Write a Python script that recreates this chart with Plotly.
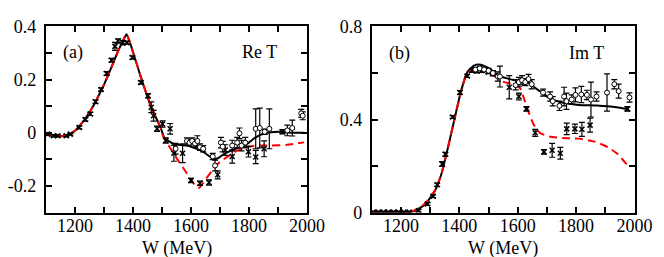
import plotly.graph_objects as go

# ---------------- Panel (a): Re T ----------------
a_curve_W = [1100, 1120, 1140, 1160, 1180, 1200, 1217, 1234, 1250, 1267, 1284, 1301, 1318, 1334,
             1348, 1362, 1372, 1378, 1390, 1400, 1415, 1430, 1446, 1463, 1480, 1496]
a_curve_common = [-0.005, -0.010, -0.013, -0.012, -0.008, 0.008, 0.028, 0.050, 0.077, 0.108, 0.145,
                  0.183, 0.226, 0.269, 0.305, 0.339, 0.360, 0.371, 0.338, 0.304, 0.252, 0.200,
                  0.148, 0.096, 0.055, 0.018]
a_black_W = [1508, 1525, 1541, 1564, 1586, 1610, 1631, 1648, 1664, 1681, 1695, 1709, 1742, 1765,
             1787, 1805, 1820, 1854, 1876, 1899, 1930, 1960, 1990]
a_black_v = [-0.019, -0.032, -0.042, -0.046, -0.048, -0.056, -0.065, -0.076, -0.089, -0.098, -0.094,
             -0.083, -0.065, -0.056, -0.048, -0.032, -0.019, -0.002, 0.002, 0.004, 0.002, 0.000, 0.000]
a_red_W = [1497, 1513, 1530, 1552, 1575, 1590, 1603, 1619, 1628, 1636, 1646, 1658, 1672, 1686, 1703,
           1720, 1753, 1787, 1832, 1876, 1932, 1960, 1990]
a_red_v = [0.004, -0.030, -0.060, -0.098, -0.135, -0.160, -0.181, -0.204, -0.207, -0.198, -0.182,
           -0.164, -0.143, -0.123, -0.107, -0.094, -0.071, -0.054, -0.048, -0.048, -0.045, -0.041, -0.036]

a_x_W = [1106, 1126, 1141, 1170, 1184, 1215, 1236, 1253, 1271, 1290, 1309, 1326, 1338, 1349, 1365,
         1379, 1398, 1427, 1452, 1463, 1471, 1483, 1502, 1513, 1528, 1541, 1571, 1600, 1631, 1662,
         1692, 1718, 1742, 1798, 1823, 1852, 1915]
a_x_v = [-0.005, -0.011, -0.011, -0.011, -0.005, 0.020, 0.050, 0.071, 0.117, 0.163, 0.223, 0.273,
         0.325, 0.345, 0.339, 0.339, 0.283, 0.189, 0.139, 0.096, 0.064, 0.015, 0.033, -0.029, 0.015,
         -0.077, -0.077, -0.179, -0.190, -0.187, -0.158, -0.065, -0.089, -0.071, -0.091, -0.060, 0.004]
a_x_err = [0.004, 0.004, 0.004, 0.004, 0.004, 0.005, 0.006, 0.006, 0.006, 0.006, 0.007, 0.007,
           0.015, 0.008, 0.008, 0.006, 0.006, 0.006, 0.008, 0.02, 0.02, 0.01, 0.012, 0.01, 0.02,
           0.03, 0.035, 0.008, 0.008, 0.01, 0.015, 0.02, 0.025, 0.02, 0.025, 0.03, 0.008]

a_o_W = [1547, 1586, 1595, 1604, 1614, 1622, 1631, 1642, 1675, 1683, 1703, 1709, 1742, 1759, 1767,
         1774, 1787, 1823, 1837, 1854, 1870, 1932, 1949, 1980, 1985]
a_o_v = [-0.060, -0.031, -0.037, -0.031, -0.040, -0.031, -0.054, -0.060, -0.089, -0.123, -0.037,
         -0.052, -0.048, -0.037, -0.002, -0.048, -0.037, 0.015, 0.018, 0.004, 0.015, 0.009, 0.018,
         0.073, 0.064]
a_o_err = [0.02, 0.012, 0.012, 0.012, 0.015, 0.02, 0.012, 0.012, 0.012, 0.02, 0.02, 0.02, 0.02,
           0.02, 0.02, 0.02, 0.02, 0.075, 0.075, 0.01, 0.075, 0.02, 0.03, 0.015, 0.015]

# ---------------- Panel (b): Im T ----------------
b_black_W = [1100, 1150, 1217, 1250, 1283, 1317, 1339, 1361, 1383, 1405, 1428, 1450, 1467, 1483,
             1499, 1516, 1532, 1560, 1590, 1615, 1635, 1650, 1676, 1709, 1743, 1809, 1871, 1938, 1977]
b_black_v = [0.0, 0.0, 0.0, 0.009, 0.036, 0.095, 0.168, 0.280, 0.400, 0.519, 0.605, 0.632, 0.637,
             0.632, 0.622, 0.608, 0.590, 0.578, 0.570, 0.570, 0.563, 0.545, 0.522, 0.492, 0.476,
             0.463, 0.460, 0.453, 0.445]
b_red_W = [1100, 1150, 1217, 1250, 1283, 1317, 1339, 1361, 1383, 1405, 1421, 1443, 1465, 1488,
           1510, 1554, 1587, 1610, 1621, 1637, 1654, 1678, 1709, 1754, 1809, 1864, 1909, 1942, 1977]
b_red_v = [0.0, 0.0, 0.0, 0.012, 0.040, 0.097, 0.168, 0.280, 0.400, 0.515, 0.585, 0.615, 0.620,
           0.611, 0.595, 0.561, 0.552, 0.532, 0.492, 0.433, 0.380, 0.341, 0.327, 0.321, 0.318,
           0.305, 0.281, 0.252, 0.202]

b_x_W = [1105, 1122, 1140, 1157, 1175, 1192, 1210, 1228, 1260, 1291, 1310, 1324, 1341, 1352, 1377,
         1402, 1427, 1443, 1460, 1477, 1499, 1515, 1571, 1604, 1630, 1660, 1690, 1718, 1746, 1768,
         1796, 1820, 1848, 1976]
b_x_v = [0.002, 0.002, 0.002, 0.002, 0.002, 0.002, 0.002, 0.002, 0.008, 0.037, 0.070, 0.120, 0.209,
         0.251, 0.411, 0.516, 0.587, 0.611, 0.609, 0.611, 0.605, 0.598, 0.539, 0.499, 0.446, 0.343,
         0.261, 0.268, 0.255, 0.360, 0.360, 0.358, 0.376, 0.446]
b_x_err = [0.003, 0.003, 0.003, 0.003, 0.003, 0.003, 0.003, 0.003, 0.005, 0.006, 0.006, 0.007,
           0.01, 0.008, 0.006, 0.008, 0.006, 0.008, 0.008, 0.008, 0.008, 0.01, 0.05, 0.015, 0.01,
           0.015, 0.01, 0.03, 0.025, 0.025, 0.02, 0.03, 0.03, 0.01]

b_o_W = [1455, 1470, 1485, 1500, 1515, 1532, 1539, 1593, 1604, 1615, 1626, 1637, 1648, 1687, 1711,
         1720, 1743, 1759, 1767, 1785, 1798, 1818, 1837, 1851, 1870, 1906, 1931, 1946, 1983]
b_o_v = [0.615, 0.620, 0.615, 0.610, 0.600, 0.585, 0.585, 0.548, 0.561, 0.569, 0.561, 0.574, 0.552,
         0.516, 0.499, 0.479, 0.459, 0.499, 0.479, 0.486, 0.506, 0.508, 0.506, 0.486, 0.499, 0.516,
         0.552, 0.522, 0.495]
b_o_err = [0.008, 0.008, 0.008, 0.01, 0.01, 0.02, 0.045, 0.02, 0.02, 0.02, 0.015, 0.02, 0.02, 0.015,
           0.02, 0.02, 0.02, 0.04, 0.035, 0.02, 0.03, 0.035, 0.02, 0.075, 0.02, 0.08, 0.02, 0.03, 0.02]

x_major = [1200, 1400, 1600, 1800, 2000]
x_minor = [1100, 1300, 1500, 1700, 1900]
a_y_major = [-0.2, 0, 0.2, 0.4]
a_y_labels = ["-0.2", "0", "0.2", "0.4"]
a_y_minor = [-0.3, -0.1, 0.1, 0.3]
b_y_major = [0, 0.4, 0.8]
b_y_labels = ["0", "0.4", "0.8"]
b_y_minor = [0.2, 0.6]

FONT = "Liberation Serif"
RED = "#ff0000"

fig = go.Figure()

def add_panel(xa, ya, common_W, common_v, blk_W, blk_v, red_W, red_v,
              xW, xv, xe, oW, ov, oe):
    bW = (common_W or []) + blk_W
    bv = (common_v or []) + blk_v
    rW = (common_W or []) + red_W
    rv = (common_v or []) + red_v
    fig.add_trace(go.Scatter(x=bW, y=bv, mode="lines", xaxis=xa, yaxis=ya,
                             line=dict(color="black", width=2, shape="spline", smoothing=0.5),
                             showlegend=False, hoverinfo="skip"))
    fig.add_trace(go.Scatter(x=rW, y=rv, mode="lines", xaxis=xa, yaxis=ya,
                             line=dict(color=RED, width=2, dash="8px,5px", shape="spline", smoothing=0.5),
                             showlegend=False, hoverinfo="skip"))
    fig.add_trace(go.Scatter(x=xW, y=xv, mode="markers", xaxis=xa, yaxis=ya,
                             marker=dict(symbol="x-thin", size=5, color="black",
                                         line=dict(width=1.5, color="black")),
                             error_y=dict(type="data", array=xe, thickness=1.2, width=3, color="black"),
                             showlegend=False, hoverinfo="skip"))
    fig.add_trace(go.Scatter(x=oW, y=ov, mode="markers", xaxis=xa, yaxis=ya,
                             marker=dict(symbol="circle", size=5, color="white",
                                         line=dict(width=1, color="black")),
                             error_y=dict(type="data", array=oe, thickness=1.2, width=3, color="black"),
                             showlegend=False, hoverinfo="skip"))

add_panel("x", "y", a_curve_W, a_curve_common, a_black_W, a_black_v, a_red_W, a_red_v,
          a_x_W, a_x_v, a_x_err, a_o_W, a_o_v, a_o_err)
add_panel("x2", "y2", None, None, b_black_W, b_black_v, b_red_W, b_red_v,
          b_x_W, b_x_v, b_x_err, b_o_W, b_o_v, b_o_err)

H = 257.0
W = 664.0
ydom = [1 - 211 / H, 1 - 9 / H]

axis_common = dict(showline=True, linecolor="black", linewidth=2, mirror="ticks",
                   ticks="inside", ticklen=6, tickwidth=1.5, tickcolor="black",
                   showgrid=False, zeroline=False, ticklabeloverflow="allow",
                   tickfont=dict(family=FONT, size=18, color="black"))

def minor(vals):
    return dict(tickmode="array", tickvals=vals, ticks="inside", ticklen=6,
                tickwidth=1.5, tickcolor="black")

fig.update_layout(
    width=664, height=257, autosize=False,
    margin=dict(l=0, r=0, t=0, b=0),
    paper_bgcolor="white", plot_bgcolor="white",
    font=dict(family=FONT, size=18, color="black"),
    xaxis=dict(axis_common, domain=[38 / W, 307 / W], range=[1100, 2000.5],
               tickmode="array", tickvals=x_major, ticktext=[str(v) for v in x_major],
               minor=minor(x_minor), anchor="y", ticklabelstandoff=-4),
    yaxis=dict(axis_common, domain=ydom, range=[-0.3, 0.4005],
               tickmode="array", tickvals=a_y_major, ticktext=a_y_labels,
               minor=minor(a_y_minor), anchor="x", ticklabelstandoff=4),
    xaxis2=dict(axis_common, domain=[373.5 / W, 644 / W], range=[1100, 2000.5],
                tickmode="array", tickvals=x_major, ticktext=[str(v) for v in x_major],
                minor=minor(x_minor), anchor="y2", ticklabelstandoff=-4),
    yaxis2=dict(axis_common, domain=ydom, range=[0, 0.801],
                tickmode="array", tickvals=b_y_major, ticktext=b_y_labels,
                minor=minor(b_y_minor), anchor="x2", ticklabelstandoff=4),
)

ann_font = dict(family=FONT, size=18, color="black")
for txt, xp, yp in [("(a)", 66, 37), ("Re T", 258, 37), ("(b)", 402, 38), ("Im T", 595, 38),
                    ("W (MeV)", 172.5, 250), ("W (MeV)", 508.5, 250)]:
    fig.add_annotation(text=txt, x=xp / W, y=1 - yp / H, xref="paper", yref="paper",
                       xanchor="center", yanchor="middle", showarrow=False, font=ann_font)

fig.write_html("out.html")
